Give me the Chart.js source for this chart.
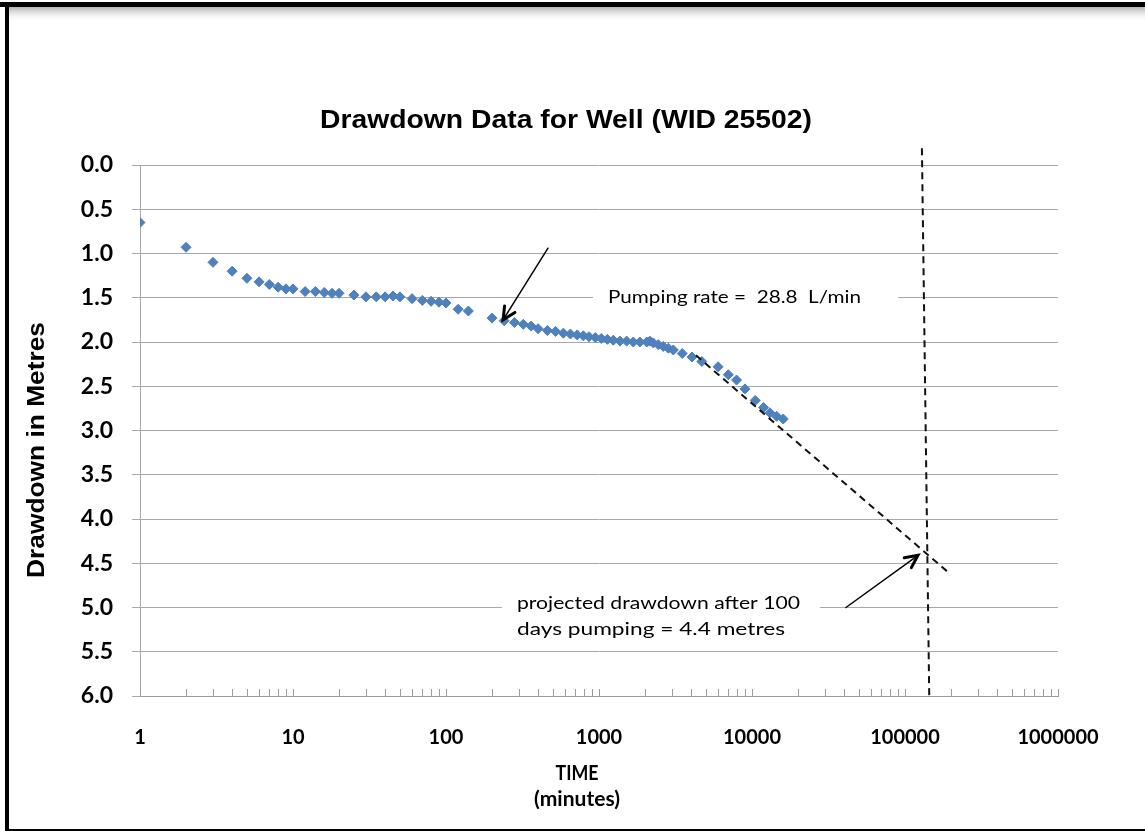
<!DOCTYPE html>
<html><head><meta charset="utf-8">
<script src="https://cdn.jsdelivr.net/npm/chart.js@4.4.1/dist/chart.umd.min.js"></script>
<style>html,body{margin:0;padding:0;background:#fff;overflow:hidden}canvas{display:block}</style>
</head><body><canvas id="c" width="1145" height="831"></canvas>
<script>
// ---- data (time in minutes, drawdown in metres) ----
const timeMinutes = [1,2,3,4,5,6,7,8,9,10,12,14,16,18,20,25,30,35,40,45,50,60,70,80,90,100,120,140,200,240,280,320,360,400,460,520,585,650,720,790,860,945,1035,1135,1240,1370,1515,1675,1850,2050,2150,2265,2440,2630,2840,3060,3500,4050,4700,6000,7000,7930,9000,10500,11900,13100,14500,16000];
const drawdownMetres = [0.65,0.93,1.10,1.20,1.28,1.32,1.35,1.38,1.40,1.40,1.43,1.43,1.44,1.45,1.45,1.47,1.49,1.49,1.49,1.48,1.49,1.51,1.53,1.54,1.55,1.56,1.63,1.65,1.73,1.76,1.78,1.80,1.82,1.85,1.87,1.88,1.90,1.91,1.92,1.93,1.94,1.95,1.96,1.97,1.98,1.99,1.99,2.00,2.00,2.00,1.99,2.01,2.03,2.05,2.07,2.09,2.13,2.17,2.22,2.28,2.37,2.43,2.53,2.66,2.74,2.80,2.84,2.87];
// projected trend line
const projTime = [4300, 191000];
const projDrawdown = [2.15, 4.60];
// 100 days of pumping marker
const hundredDaysTime = [129000, 144000];
const hundredDaysDrawdown = [-0.19, 5.99];
// axis labels
const xLabelValues = [1,10,100,1000,10000,100000,1000000];
const yStep = 0.5;
const chartTitle = 'Drawdown Data for Well (WID 25502)';
const yTitle = 'Drawdown in Metres';
const xTitleLines = ['TIME', '(minutes)'];
const pumpingText = 'Pumping rate =  28.8  L/min';
const projectedLines = ['projected drawdown after 100', 'days pumping = 4.4 metres'];

const pts = timeMinutes.map((t,i)=>({x:t, y:drawdownMetres[i]}));
const projPts = projTime.map((t,i)=>({x:t, y:projDrawdown[i]}));
const daysPts = hundredDaysTime.map((t,i)=>({x:t, y:hundredDaysDrawdown[i]}));

function fitText(ctx, text, x, y, targetW, align){
  const w = ctx.measureText(text).width;
  const s = targetW / w;
  ctx.save(); ctx.translate(x, y); ctx.scale(s, 1);
  ctx.textAlign = align; ctx.fillText(text, 0, 0); ctx.restore();
}
function arrow(ctx, x1, y1, x2, y2){
  ctx.save();
  ctx.strokeStyle = '#000'; ctx.lineWidth = 1.5; ctx.lineCap = 'round';
  ctx.beginPath(); ctx.moveTo(x1,y1); ctx.lineTo(x2,y2); ctx.stroke();
  const a = Math.atan2(y1-y2, x1-x2);
  const L = 14, sp = 0.45;
  ctx.lineWidth = 3;
  ctx.beginPath();
  ctx.moveTo(x2 + L*Math.cos(a+sp), y2 + L*Math.sin(a+sp));
  ctx.lineTo(x2, y2);
  ctx.lineTo(x2 + L*Math.cos(a-sp), y2 + L*Math.sin(a-sp));
  ctx.stroke();
  ctx.restore();
}

const decor = {
  id: 'decor',
  beforeDraw(chart){
    const ctx = chart.ctx;
    ctx.save(); ctx.fillStyle = '#fff'; ctx.fillRect(0,0,chart.width,chart.height); ctx.restore();
  },
  beforeDatasetsDraw(chart){
    const ctx = chart.ctx, X = chart.scales.x, Y = chart.scales.y;
    ctx.save(); ctx.fillStyle = '#fff';
    // text boxes covering the gridlines
    let l = X.getPixelForValue(914), r = X.getPixelForValue(90000);
    let t = Y.getPixelForValue(1.30), b = Y.getPixelForValue(1.70);
    ctx.fillRect(l, t, r-l, b-t);
    l = X.getPixelForValue(232); r = X.getPixelForValue(27800);
    t = Y.getPixelForValue(4.75); b = Y.getPixelForValue(5.42);
    ctx.fillRect(l, t, r-l, b-t);
    ctx.restore();
  },
  afterDraw(chart){
    const ctx = chart.ctx, X = chart.scales.x, Y = chart.scales.y, ca = chart.chartArea;
    ctx.save();
    // inward minor ticks on x axis
    ctx.strokeStyle = '#9a9a9a'; ctx.lineWidth = 1;
    X.ticks.forEach(tk => {
      const p = Math.round(X.getPixelForValue(tk.value)) + 0.5;
      ctx.beginPath(); ctx.moveTo(p, ca.bottom); ctx.lineTo(p, ca.bottom - 7); ctx.stroke();
    });
    ctx.fillStyle = '#000';
    ctx.textBaseline = 'middle';
    // chart title
    ctx.font = 'bold 25px "Liberation Sans", Arial, sans-serif';
    fitText(ctx, chartTitle, 566, 121, 492, 'center');
    // y title
    ctx.save(); ctx.translate(37, 450); ctx.rotate(-Math.PI/2);
    ctx.font = 'bold 24px "Liberation Sans", Arial, sans-serif';
    fitText(ctx, yTitle, 0, 0, 256, 'center');
    ctx.restore();
    // x title
    ctx.font = 'bold 20px Lato, "Open Sans", sans-serif';
    fitText(ctx, xTitleLines[0], 577, 774, 43, 'center');
    fitText(ctx, xTitleLines[1], 577, 800, 86, 'center');
    // annotations
    ctx.font = '18px Lato, "Open Sans", sans-serif';
    fitText(ctx, pumpingText, X.getPixelForValue(1145), Y.getPixelForValue(1.49), 253, 'left');
    fitText(ctx, projectedLines[0], X.getPixelForValue(291), Y.getPixelForValue(4.95), 283, 'left');
    fitText(ctx, projectedLines[1], X.getPixelForValue(291), Y.getPixelForValue(5.245), 268, 'left');
    arrow(ctx, X.getPixelForValue(464), Y.getPixelForValue(0.94), X.getPixelForValue(236), Y.getPixelForValue(1.75));
    arrow(ctx, X.getPixelForValue(41100), Y.getPixelForValue(5.0), X.getPixelForValue(121600), Y.getPixelForValue(4.41));
    // frame
    ctx.fillStyle = '#000';
    ctx.fillRect(0, 2, chart.width, 5);
    ctx.fillRect(5, 2, 4, chart.height);
    ctx.fillRect(5, chart.height - 2, chart.width, 2);
    const g = ctx.createLinearGradient(0, 7, 0, 22);
    g.addColorStop(0, 'rgba(170,170,170,0.9)'); g.addColorStop(1, 'rgba(255,255,255,0)');
    ctx.fillStyle = g; ctx.fillRect(9, 7, chart.width - 9, 15);
    ctx.restore();
  }
};

function start(){
  new Chart(document.getElementById('c'), {
    type: 'scatter',
    data: { datasets: [
      { label: 'Projection', data: projPts, showLine: true, borderColor: '#111', borderWidth: 2, borderDash: [7,5], pointRadius: 0, fill: false },
      { label: '100 days', data: daysPts, showLine: true, borderColor: '#111', borderWidth: 2, borderDash: [7,5], pointRadius: 0, fill: false, clip: false },
      { label: 'Drawdown', data: pts, pointStyle: 'rectRot', pointRadius: 5, backgroundColor: '#4f81bd', borderColor: '#4f81bd', borderWidth: 1 }
    ]},
    options: {
      responsive: false, animation: false, devicePixelRatio: 1,
      layout: { padding: { left: 0, right: 87, top: 165, bottom: 0 } },
      plugins: { legend: { display: false }, tooltip: { enabled: false }, title: { display: false } },
      scales: {
        x: {
          type: 'logarithmic', min: 1, max: 1000000, position: 'bottom',
          grid: { display: false, drawTicks: false },
          border: { display: true, color: '#9a9a9a', width: 1 },
          afterBuildTicks: s => {
            const arr = [];
            for (let k = 0; k < 6; k++) for (let m = 1; m < 10; m++) arr.push({ value: m * Math.pow(10, k) });
            arr.push({ value: 1000000 });
            s.ticks = arr;
          },
          ticks: {
            autoSkip: false, maxRotation: 0, minRotation: 0, padding: 30, color: '#000',
            font: { family: 'Lato, "Open Sans", sans-serif', weight: 'bold', size: 20 },
            callback: v => xLabelValues.includes(v) ? String(v) : ''
          },
          afterFit: s => { s.height = 135; }
        },
        y: {
          type: 'linear', min: 0, max: 6, reverse: true,
          grid: { color: '#a8a8a8', lineWidth: 1, tickLength: 8 },
          border: { display: true, color: '#a8a8a8', width: 1 },
          ticks: {
            stepSize: yStep, padding: 19, color: '#000',
            font: { family: 'Lato, "Open Sans", sans-serif', weight: 'bold', size: 23 },
            callback: v => Number(v).toFixed(1)
          },
          afterFit: s => { s.width = 140; }
        }
      }
    },
    plugins: [decor]
  });
}
Promise.all([
  document.fonts.load('bold 19px Lato'), document.fonts.load('18px Lato'),
  document.fonts.load('bold 22px "Liberation Sans"')
]).then(start, start);
</script>
</body></html>
